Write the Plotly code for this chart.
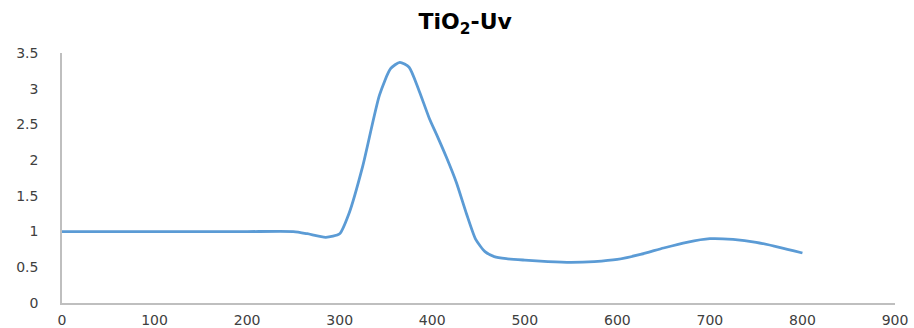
import plotly.graph_objects as go

wavelength = [0, 50, 100, 150, 200, 250, 265, 285, 300, 310, 325, 343, 355, 365, 375, 385,
              397, 405, 415, 426, 437, 447, 457, 467, 480, 500, 525, 550, 575, 600, 625,
              650, 675, 700, 725, 750, 775, 800]
absorbance = [1, 1, 1, 1, 1, 1, 0.97, 0.92, 0.97, 1.25, 1.92, 2.91, 3.28, 3.37, 3.3, 3.0,
              2.58, 2.35, 2.05, 1.69, 1.25, 0.89, 0.72, 0.65, 0.62, 0.6, 0.58, 0.57, 0.58,
              0.61, 0.68, 0.77, 0.85, 0.9, 0.89, 0.85, 0.78, 0.7]
x_ticks = [0, 100, 200, 300, 400, 500, 600, 700, 800, 900]
y_ticks = [0, 0.5, 1, 1.5, 2, 2.5, 3, 3.5]

fig = go.Figure()
fig.add_trace(go.Scatter(
    x=wavelength, y=absorbance, mode="lines",
    line=dict(color="#5B9BD5", width=2.8, shape="spline", smoothing=0.6),
    showlegend=False, hoverinfo="x+y",
))

axis_font = dict(family="DejaVu Sans, sans-serif", size=14, color="#404040")
fig.update_layout(
    width=914, height=328,
    margin=dict(l=62, r=19, t=53, b=25),
    paper_bgcolor="white", plot_bgcolor="white",
    title=dict(text="<b>TiO<sub>2</sub>-Uv</b>", x=0.509, xanchor="center",
               y=0.935, yanchor="middle",
               font=dict(family="DejaVu Sans, sans-serif", size=22, color="#000000")),
    xaxis=dict(range=[0, 900], tickvals=x_ticks, ticktext=[str(v) for v in x_ticks],
               showgrid=False, zeroline=False, showline=True, linecolor="#BFBFBF", linewidth=1.5,
               ticks="", tickfont=axis_font, ticklabelstandoff=3, automargin=False),
    yaxis=dict(range=[0, 3.5], tickvals=y_ticks, ticktext=[("%g" % v) for v in y_ticks],
               showgrid=False, zeroline=False, showline=True, linecolor="#BFBFBF", linewidth=1.5,
               ticks="", tickfont=axis_font, ticklabelstandoff=19, automargin=False),
)

fig.write_html("out.html")
